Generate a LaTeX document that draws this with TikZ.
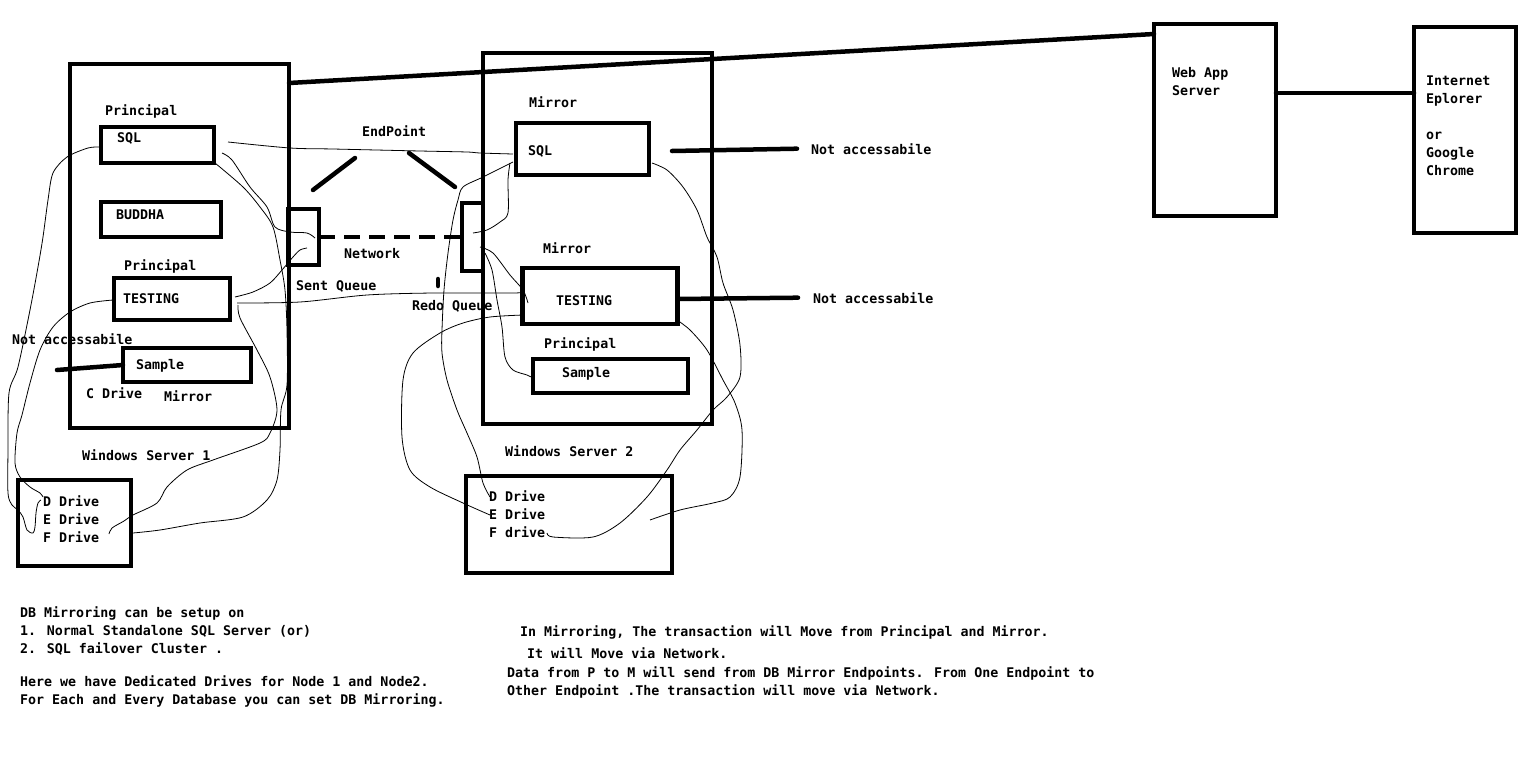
\documentclass[tikz,border=0pt]{standalone}
\usepackage{fontspec}
\newfontfamily\monofam{DejaVu Sans Mono}
\usetikzlibrary{calc}
\tikzset{
  box/.style={draw, line width=4.5pt, inner sep=0pt, outer sep=0pt},
  lbl/.style={font=\monofam\bfseries\fontsize{13.3}{16}\selectfont, anchor=base west, inner sep=0pt},
  note/.style={font=\monofam\bfseries\fontsize{13.3}{16}\selectfont, anchor=base west, inner sep=0pt},
  heavy/.style={line width=4.5pt, line cap=round},
  scribble/.style={line width=0.8pt},
}
\begin{document}
\begin{tikzpicture}[x=1pt,y=-1pt]
\useasboundingbox[fill=white] (0,0) rectangle (1540,769);

% ---- big boxes
\node[box, minimum width=219pt, minimum height=364pt] (s1) at (179.5,246) {};
\node[box, minimum width=229pt, minimum height=371pt] (s2) at (597.5,238.5) {};
\node[box, minimum width=122pt, minimum height=192pt] (web) at (1215,120) {};
\node[box, minimum width=102pt, minimum height=206pt] (ie) at (1465,130) {};

% ---- server 1 inner boxes
\node[box, minimum width=113pt, minimum height=36pt] (sql1) at (157.5,145) {};
\node[box, minimum width=120pt, minimum height=35pt] (bud) at (161,219.5) {};
\node[box, minimum width=116pt, minimum height=42pt] (test1) at (172,299) {};
\node[box, minimum width=128pt, minimum height=34pt] (samp1) at (187,365) {};

% ---- endpoints
\node[box, minimum width=31pt, minimum height=56pt] (ep1) at (303.5,237) {};
\node[box, minimum width=21pt, minimum height=68pt] (ep2) at (472.5,237) {};

% ---- server 2 inner boxes
\node[box, minimum width=133pt, minimum height=52pt] (sql2) at (582.5,149) {};
\node[box, minimum width=155pt, minimum height=56pt] (test2) at (600,296) {};
\node[box, minimum width=155pt, minimum height=34pt] (samp2) at (610.5,376) {};

% ---- drive boxes
\node[box, minimum width=113pt, minimum height=86pt] (d1) at (74.5,523) {};
\node[box, minimum width=206pt, minimum height=97pt] (d2) at (569,524.5) {};

% ---- labels
\node[lbl] (p1) at (105,115) {Principal};
\node[lbl] (t-sql1) at (117,142) {SQL};
\node[lbl] (t-bud) at (116,219) {BUDDHA};
\node[lbl] (p2) at (124,270) {Principal};
\node[lbl] (t-test1) at (123,303) {TESTING};
\node[lbl] (na1) at (12,344) {Not accessabile};
\node[lbl] (t-samp1) at (136,369) {Sample};
\node[lbl] (cdrive) at (86,398) {C Drive};
\node[lbl] (m1) at (164,401) {Mirror};
\node[lbl] (ws1) at (82,460) {Windows Server 1};
\node[lbl] (endp) at (362,136) {EndPoint};
\node[lbl] (netw) at (344,258) {Network};
\node[lbl] (sentq) at (296,290) {Sent Queue};
\node[lbl] (redoq) at (412,310) {Redo Queue};
\node[lbl] (m2) at (529,107) {Mirror};
\node[lbl] (t-sql2) at (528,155) {SQL};
\node[lbl] (na2) at (811,154) {Not accessabile};
\node[lbl] (m3) at (543,253) {Mirror};
\node[lbl] (t-test2) at (556,305) {TESTING};
\node[lbl] (na3) at (813,303) {Not accessabile};
\node[lbl] (p3) at (544,348) {Principal};
\node[lbl] (t-samp2) at (562,377) {Sample};
\node[lbl] (ws2) at (505,456) {Windows Server 2};
\node[lbl] (dd1) at (43,506) {D Drive};
\node[lbl] (ed1) at (43,524) {E Drive};
\node[lbl] (fd1) at (43,542) {F Drive};
\node[lbl] (dd2) at (489,501) {D Drive};
\node[lbl] (ed2) at (489,519) {E Drive};
\node[lbl] (fd2) at (489,537) {F drive};
\node[lbl] (wa1) at (1172,77) {Web App};
\node[lbl] (wa2) at (1172,95) {Server};
\node[lbl] (ie1) at (1426,85) {Internet};
\node[lbl] (ie2) at (1426,103) {Eplorer};
\node[lbl] (ie3) at (1426,139) {or};
\node[lbl] (ie4) at (1426,157) {Google};
\node[lbl] (ie5) at (1426,175) {Chrome};

% ---- notes
\node[note] (n1) at (20,617) {DB Mirroring can be setup on};
\node[note] (n2) at (20,635) {1. Normal Standalone SQL Server (or)};
\node[note] (n3) at (20,653) {2. SQL failover Cluster .};
\node[note] (n4) at (20,686) {Here we have Dedicated Drives for Node 1 and Node2.};
\node[note] (n5) at (20,704) {For Each and Every Database you can set DB Mirroring.};
\node[note] (n6) at (520,636) {In Mirroring, The transaction will Move from Principal and Mirror.};
\node[note] (n7) at (527,658) {It will Move via Network.};
\node[note] (n8) at (507,677) {Data from P to M will send from DB Mirror Endpoints. From One Endpoint to};
\node[note] (n9) at (507,695) {Other Endpoint .The transaction will move via Network.};

% ---- heavy connectors
\draw[heavy] ([yshift=-19pt]s1.north east) -- ([yshift=-10pt]web.north west);
\draw[heavy] ([yshift=27pt]web.east) -- ([yshift=37pt]ie.west);
\coordinate (na1end) at (57,370);
\draw[heavy] (na1end) -- (samp1.west);
\draw[heavy] ([xshift=23pt,yshift=-2pt]sql2.east) -- ([xshift=-14pt]na2.west);
\draw[heavy] ([yshift=-3pt]test2.east) -- ([xshift=-15pt]na3.west);
\draw[line width=4.5pt, dash pattern=on 16pt off 9pt] (ep1.east) -- (ep2.west);
\coordinate (sl1a) at (313,190); \coordinate (sl1b) at (355,158);
\coordinate (sl2a) at (409,153); \coordinate (sl2b) at (455,187);
\draw[heavy] (sl1a) -- (sl1b);
\draw[heavy] (sl2a) -- (sl2b);
\coordinate (dota) at (438,279); \coordinate (dotb) at (438,286);
\draw[heavy] (dota) -- (dotb);

% ---- freehand scribbles
\draw[scribble] plot[smooth] coordinates {(228,142) (290,148) (333,149) (420,151) (467,152) (480,153) (513,154)};
\draw[scribble] plot[smooth] coordinates {(222,153) (232,160) (250,187) (267,207) (275,227) (290,232) (307,233) (315,238)};
\draw[scribble] plot[smooth] coordinates {(215,163) (243,187) (260,207) (273,227) (280,260) (285,290) (287,330) (287,385) (281,410) (280,450) (277,480) (267,500) (243,517) (200,523) (160,530) (133,533)};
\draw[scribble] plot[smooth] coordinates {(235,297) (253,292) (270,283) (282,270) (293,257) (300,250) (307,248)};
\draw[scribble] plot[smooth] coordinates {(237,303) (300,302) (367,295) (433,293) (513,293) (522,292)};
\draw[scribble] plot[smooth] coordinates {(238,305) (240,318) (257,350) (270,377) (277,410) (270,433) (260,443) (213,460) (187,470) (167,487) (157,503) (133,515) (124,521) (112,528) (109,534)};
\draw[scribble] plot[smooth] coordinates {(100,147) (88,148) (67,157) (53,173) (48,200) (43,237) (38,267) (30,310) (18,367) (9,393) (8,450) (8,493) (12,505) (18,510) (23,517) (27,530) (33,533) (35,527) (36,513) (38,503) (41,500)};
\draw[scribble] plot[smooth] coordinates {(113,300) (90,303) (70,312) (53,327) (40,350) (30,383) (22,415) (17,433) (15,463) (20,477) (30,487) (40,493) (43,497)};
\draw[scribble] plot[smooth] coordinates {(513,162) (483,177) (463,187) (458,200) (453,220) (448,253) (444,290) (442,330) (442,353) (447,380) (457,410) (467,433) (477,457) (483,483) (490,497)};
\draw[scribble] plot[smooth] coordinates {(510,163) (508,180) (508,213) (500,222) (487,230) (473,233)};
\draw[scribble] plot[smooth] coordinates {(480,247) (493,253) (510,275) (523,290) (528,303)};
\draw[scribble] plot[smooth] coordinates {(485,253) (492,270) (497,300) (502,327) (505,357) (513,370) (527,375) (533,378)};
\draw[scribble] plot[smooth] coordinates {(523,315) (490,317) (463,323) (440,333) (413,353) (403,380) (402,437) (410,470) (430,487) (463,503) (490,515)};
\draw[scribble] plot[smooth] coordinates {(652,163) (667,170) (683,187) (697,210) (707,237) (717,257) (723,283) (733,310) (740,345) (740,377) (727,397) (713,410) (697,430) (680,450) (667,470) (647,497) (620,523) (593,537) (553,537) (547,533)};
\draw[scribble] plot[smooth] coordinates {(677,320) (690,330) (707,350) (723,380) (735,403) (742,430) (740,477) (730,497) (713,503) (680,510) (650,520)};
\end{tikzpicture}
\end{document}
